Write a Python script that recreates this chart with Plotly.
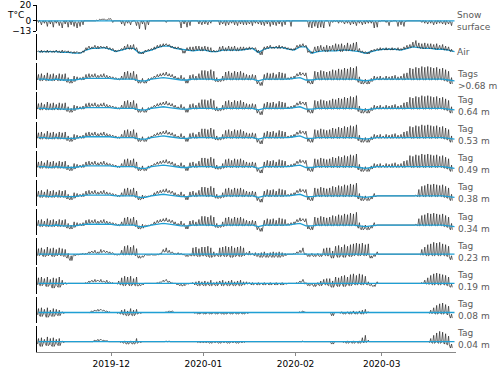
import pandas as pd
import plotly.graph_objects as go
from plotly.subplots import make_subplots

# black series are stored as one base value (lo) and one daytime extreme (hi) per day,
# 140 days starting 2019-11-06; blue series are one value every two days (71 values)

surf_lo = [-2, -5, -3, -7, -4, -8, -3, -6, -9, -4, -8, -5, -7, -9,
           -7, -5, 0, 0, 0, 0, 0, 1, 2, 1, 2, -2, 0, 0,
           -4, -6, -3, -5, 0, -6, -10, -4, -11, -5, 0, 0, 0, 0,
           0, -2, 0, 0, 0, 0, -9, -4, -8, -6, 0, 0, -4, -5,
           -4, -5, -3, 0, 0, -5, -4, -6, -5, -3, -5, -6, -4, -5,
           -5, -4, -6, -3, -4, -5, -6, -4, -7, -5, -6, -4, -7, -5,
           0, -7, 0, 0, 0, 0, 0, -8, -9, -7, -9, -8, -9, 0,
           -7, -2, -1, -3, -2, -4, -3, -5, -4, -6, -3, -5, -4, -3,
           -3, -9, -8, -1, 0, -2, -6, -1, 0, -7, -5, -7, 0, 0,
           0, 0, 0, -2, -3, -4, -3, -5, -4, -3, -4, -5, -4, -6]
surf_hi = [1, -1, 0, -1, 0, -1, 0, -1, -2, 0, -1, 0, -1, -2,
           -1, 0, 0, 0, 0, 0, 1, 2, 2, 1, 3, 0, 0, 0,
           0, -1, 0, -1, 0, -1, -2, 0, -2, 0, 0, 0, 0, 0,
           0, 0, 0, 0, 0, 0, -1, 0, -1, 0, 0, 0, 0, -1,
           0, -1, 0, 0, 0, 0, -1, 0, -1, 0, 0, -1, 0, 0,
           0, -1, 0, 0, -1, 0, -1, 0, -1, 0, -1, 0, -1, 0,
           0, 0, 0, 0, 0, 0, 0, -1, -1, 0, -1, 0, -1, 0,
           -1, 0, 0, 0, 0, -1, 0, -1, 0, -1, 0, -1, 0, 0,
           0, -1, -1, 0, 0, 0, -1, 0, 0, -1, 0, -1, 0, 0,
           0, 0, 0, 0, 0, -1, 0, -1, 0, 0, -1, 0, -1, -1]

air_lo = [-2, -3, -2, -3, -2, -3, -2, -3, -3, -2, -3, -3, -4, -3,
          -4, -3, 0, 2, 2, 3, 2, 3, 3, 2, 1, 0, -2, -1,
          0, 1, 2, 1, 2, 0, -4, -5, -2, -1, 0, 1, 3, 4,
          5, 6, 5, 3, 2, 2, 1, -4, 0, 0, -1, 0, 0, -1,
          0, -1, -2, -2, -2, -1, 0, -1, 0, -1, 0, -1, 0, 0,
          1, 1, 2, 1, -3, -6, 1, 2, 3, 2, 3, 2, 3, 2,
          1, 0, 0, 3, 4, 5, 4, -3, -4, -1, -2, 0, -1, -2,
          -1, 0, -1, 0, -2, 0, -1, 0, -1, 0, -2, -3, -4, -5,
          -2, -1, 0, 0, 1, 0, 1, 0, 1, 0, 0, 1, 2, 3,
          4, 5, 3, 2, 2, 3, 2, 2, 1, 2, 1, 0, 0, -2]
air_hi = [-1, 0, -1, 0, -1, -1, 0, -1, 0, -1, -1, -2, -2, -2,
          -3, -1, 3, 5, 4, 6, 5, 5, 4, 5, 3, 2, 0, 0,
          2, 5, 7, 6, 7, 3, -2, -3, 0, 1, 2, 4, 6, 7,
          8, 8, 7, 5, 4, 4, 2, -1, 3, 4, 4, 5, 5, 4,
          5, 4, 3, 0, -1, 4, 5, 3, 5, 4, 5, 3, 4, 4,
          3, 4, 3, 3, 0, -2, 4, 5, 6, 4, 5, 6, 5, 4,
          3, 2, 2, 6, 7, 8, 6, -1, -2, 4, 5, 6, 4, 6,
          5, 6, 8, 7, 8, 6, 9, 7, 9, 10, 2, -1, -2, -3,
          0, 1, 2, 3, 2, 3, 2, 3, 2, 3, 2, 4, 6, 7,
          10, 12, 9, 8, 9, 8, 8, 7, 8, 6, 7, 5, 4, 1]

# upper tags (>0.68 m down to 0.49 m)
upper_lo = [-1, -2, -1, -2, -1, -2, -1, -2, -1, -2, -4, -5, -3, -1,
            0, -1, 1, 2, 3, 3, 2, 3, 3, 2, 2, 1, 0, -1,
            0, 0, 1, 0, 0, -2, -5, -4, -5, -2, 0, 2, 3, 4,
            5, 5, 4, 3, 1, 0, 0, -1, -5, -1, 0, -1, 0, 0,
            0, -1, 0, -1, -3, -3, -2, -1, 0, -1, 0, -1, 0, -1,
            0, -1, 0, -1, -6, -8, -1, 0, -1, 0, -1, 0, -1, 0,
            0, 0, 1, 4, 5, 6, 4, -5, -6, -1, 0, -1, 0, -1,
            0, -1, 0, -1, 0, -1, 0, -1, 0, -1, -4, -6, -5, -6,
            -3, -1, 0, -1, 0, -1, 0, -1, 0, -1, 0, -1, 0, 0,
            -1, 0, -1, 0, -1, 0, -1, 0, -1, 0, -1, -2, -3, -6]
upper_hi = [6, 7, 5, 8, 6, 7, 5, 7, 6, 7, 2, 0, 4, 3,
            2, 3, 6, 7, 6, 7, 5, 6, 7, 5, 4, 3, 2, 1,
            4, 9, 10, 8, 10, 6, -1, 1, -2, 1, 2, 4, 6, 7,
            8, 9, 7, 6, 4, 2, 5, 2, -1, 5, 6, 4, 7, 11,
            11, 10, 12, 10, 2, 0, 4, 9, 10, 8, 10, 9, 10, 8,
            6, 5, 6, 5, -2, -4, 6, 8, 7, 8, 6, 9, 8, 7,
            2, 3, 4, 7, 9, 8, 8, -1, -2, 10, 9, 11, 10, 9,
            10, 12, 11, 13, 12, 14, 13, 15, 14, 16, 3, -1, 0, -2,
            1, 4, 3, 4, 2, 4, 3, 4, 5, 3, 4, 7, 8, 14,
            13, 15, 14, 16, 15, 16, 15, 14, 15, 13, 14, 12, 10, 2]

# middle tags (0.38 m, 0.34 m)
mid_lo = [-1, -2, -1, -2, -1, -2, -1, -2, -1, -2, -4, -5, -3, -1,
          0, -1, 1, 2, 3, 3, 2, 3, 3, 2, 2, 1, 0, -1,
          0, 0, 1, 0, 0, -2, -5, -4, -1, -1, 0, 1, 3, 4,
          5, 5, 4, 3, 1, 0, 0, -1, -5, -1, 0, -1, 0, 0,
          0, -1, 0, -1, -3, -3, -2, -1, 0, -1, 0, -1, 0, -1,
          0, -1, 0, -1, -6, -8, -1, 0, -1, 0, -1, 0, -1, 0,
          0, 0, 1, 4, 5, 6, 4, -5, -6, -1, 0, -1, 0, -1,
          0, -1, 0, -1, 0, -1, 0, -1, 0, -1, -4, -6, -5, -6,
          -4, -1, 0, 0, 0, 0, 0, 0, 0, 0, 0, 0, 0, 0,
          0, 0, -1, 0, -1, 0, -1, 0, -1, 0, -1, -2, -3, -6]
mid_hi = [6, 7, 5, 8, 6, 7, 5, 7, 6, 7, 2, 0, 4, 3,
          2, 3, 6, 7, 6, 7, 5, 6, 7, 5, 4, 3, 2, 1,
          4, 9, 10, 8, 10, 6, -1, 1, 0, 0, 1, 4, 6, 7,
          8, 9, 7, 6, 4, 2, 5, 2, -1, 5, 6, 4, 7, 11,
          11, 10, 12, 10, 2, 0, 4, 9, 10, 8, 10, 9, 10, 8,
          6, 5, 6, 5, -2, -4, 6, 8, 7, 8, 6, 9, 8, 7,
          2, 3, 4, 7, 9, 8, 8, -1, -2, 10, 9, 11, 10, 9,
          10, 12, 11, 13, 12, 14, 13, 15, 14, 16, 3, -1, 0, -2,
          -1, 3, 0, 0, 0, 0, 0, 0, 0, 0, 0, 0, 0, 0,
          0, 1, 8, 12, 13, 15, 14, 15, 14, 13, 14, 12, 10, 2]

t023_lo = [-2, -1, -3, -2, -1, -3, -2, -1, -2, -3, -5, -8, -2, -1,
           0, 0, 0, 1, 2, 2, 1, 2, 3, 2, 1, 1, -1, -1,
           0, -1, 0, -1, 0, -2, -5, -4, -1, -1, -1, -1, -1, 0,
           3, 3, 2, 1, 0, 0, 0, -1, -3, -2, -2, -2, -3, -2,
           -2, -3, -4, -3, -2, -3, -2, -3, -2, -4, -3, -2, -3, -2,
           0, -1, 0, -2, -3, -4, -3, -4, -3, -4, -3, -4, -3, -2,
           0, 0, 0, 1, 2, 3, -1, -3, -2, -3, -2, -3, -1, -2,
           -2, -5, -1, -4, -2, -4, -1, -3, -2, -1, -2, -1, -2, -1,
           -5, -3, 0, 0, 0, 0, 0, 0, 0, 0, 0, 0, 0, 0,
           0, 0, 0, -1, -1, -2, -1, -2, -1, -2, -1, -2, -3, -7]
t023_hi = [7, 8, 6, 9, 7, 8, 6, 8, 7, 6, 1, -2, 0, 0,
           0, 1, 1, 3, 4, 5, 3, 6, 5, 4, 3, 2, 0, 0,
           5, 10, 11, 9, 11, 7, -2, -2, 0, -1, 0, -1, 0, 1,
           6, 8, 5, 3, 1, 2, 1, 0, -1, 0, 8, 9, 7, 9,
           9, 10, 8, 3, 1, 8, 9, 10, 9, 10, 8, 9, 10, 8,
           2, 4, 1, 2, 1, 2, 3, 1, 2, 3, 2, 3, 2, 1,
           0, 0, 1, 3, 5, 8, 1, 0, 1, 0, 1, 0, 7, 8,
           8, 4, 10, 11, 9, 12, 10, 12, 13, 14, 13, 14, 12, 13,
           -2, 0, 3, 0, 0, 0, 0, 0, 0, 0, 0, 0, 0, 0,
           0, 0, 0, 6, 9, 12, 13, 15, 14, 15, 13, 12, 10, -2]

t019_lo = [-2, -3, -1, -4, -2, -6, -3, -5, -2, -1, 0, 0, 0, 0,
           0, 0, 0, 1, 2, 2, 3, 2, 2, 1, 1, 0, 0, -1,
           -2, -3, -1, -3, -2, -3, -3, -2, 0, 0, 0, 0, 0, 1,
           2, 3, 1, 0, 0, -2, -3, -3, -1, 0, 0, -2, -3, -2,
           -3, -2, -3, -2, -3, -1, -3, -2, -3, -2, -3, -2, -3, -2,
           -1, 0, -2, -1, -2, -1, -2, -1, -2, -1, -2, -1, -2, -1,
           0, 0, 0, 0, 1, 2, -1, -3, -2, -4, -2, -3, -1, -2,
           -3, -5, -2, -4, -1, -4, -2, -3, -1, -2, -1, -2, -1, -2,
           -3, -4, 0, 0, 0, 0, 0, 0, 0, 0, 0, 0, 0, 0,
           0, 0, 0, 0, 0, -1, -1, -2, -1, -2, -1, -2, -3, -5]
t019_hi = [7, 8, 6, 8, 5, 7, 6, 8, 4, 1, 0, 0, 0, 0,
           0, 0, 1, 3, 4, 5, 4, 5, 3, 4, 2, 1, 0, 3,
           7, 9, 8, 9, 6, 8, -1, -1, 0, 0, 0, 0, 1, 2,
           4, 5, 3, 1, 0, 0, -1, -1, 0, 0, 1, 2, 3, 2,
           3, 2, 4, 1, 2, 3, 4, 2, 3, 4, 2, 3, 4, 2,
           2, 1, 1, 0, 1, 0, 1, 0, 1, 0, 1, 0, 1, 0,
           0, 0, 0, 1, 3, 5, 1, -1, 0, -1, 1, 3, 5, 6,
           6, 3, 8, 7, 9, 10, 8, 11, 12, 10, 12, 11, 9, 2,
           -1, -2, 2, 0, 0, 0, 0, 0, 0, 0, 0, 0, 0, 0,
           0, 0, 0, 1, 4, 7, 10, 12, 13, 12, 11, 10, 8, -1]

t008_lo = [-3, -5, -2, -6, -4, -5, -3, -4, -1, 0, 0, 0, 0, 0,
           0, 0, 0, 0, 1, 2, 2, 3, 2, 1, 0, 0, 0, -1,
           -2, -3, -4, -3, -4, -2, -1, 0, 0, 0, 0, 0, 0, 0,
           0, 0, 1, 1, 0, 0, 0, 0, 0, 0, 0, -1, -2, -1,
           -2, -1, -2, -1, -2, -1, -2, -2, -1, -2, -1, -2, -1, -2,
           -1, 0, 0, 0, 0, 0, 0, 0, 0, 0, 0, 0, 0, 0,
           0, 0, 0, 0, 0, 1, 0, 0, 0, 0, 0, 0, 0, 0,
           0, -4, 0, 0, -1, -2, -1, -2, -1, -2, -1, -2, -1, 0,
           0, 0, 0, 0, 0, 0, 0, 0, 0, 0, 0, 0, 0, 0,
           0, 0, 0, 0, 0, 0, -1, -1, -2, -1, -2, -1, -3, -7]
t008_hi = [5, 6, 4, 6, 3, 5, 4, 3, 1, 0, 0, 0, 0, 0,
           0, 0, 0, 0, 2, 3, 4, 4, 3, 2, 1, 0, 0, 0,
           3, 4, 2, 5, 3, 4, 0, 0, 0, 0, 0, 0, 0, 0,
           0, 1, 2, 2, 0, 0, 0, 0, 0, 0, 0, 0, 0, 0,
           0, 0, 0, 0, 0, 0, 0, 0, 0, 0, 0, 0, 0, 0,
           0, 0, 0, 0, 0, 0, 0, 0, 0, 0, 0, 0, 0, 0,
           0, 0, 0, 0, 1, 2, 0, 0, 0, 0, 0, 0, 0, 0,
           0, -1, 0, 0, 1, 0, 1, 1, 2, 1, 2, 3, 4, 1,
           0, 0, 0, 0, 0, 0, 0, 0, 0, 0, 0, 0, 0, 0,
           0, 0, 0, 0, 0, 0, 3, 6, 9, 11, 12, 10, 8, -2]

t004_lo = [-3, -6, -2, -5, -4, -6, -3, -5, -1, 0, 0, 0, 0, 0,
           0, 0, 0, 0, 0, 1, 1, 2, 1, 1, 0, 0, 0, 0,
           -1, -2, -3, -2, -3, -2, -1, 0, 0, 0, 0, 0, 0, 0,
           0, 0, 0, 0, 0, 0, 0, 0, 0, 0, 0, 0, -1, -1,
           -1, -1, -2, -1, -1, -2, -1, -1, -2, -1, -1, -2, -1, -1,
           0, 0, 0, 0, 0, 0, 0, 0, 0, 0, 0, 0, 0, 0,
           0, 0, 0, 0, 0, 0, 0, 0, 0, 0, 0, 0, 0, 0,
           0, -3, 0, 0, 0, -1, -2, -1, -2, -1, -2, -1, -1, 0,
           0, 0, 0, 0, 0, 0, 0, 0, 0, 0, 0, 0, 0, 0,
           0, 0, 0, 0, 0, 0, -1, -2, -1, -2, -1, -3, -4, -8]
t004_hi = [4, 5, 3, 6, 4, 5, 3, 4, 1, 0, 0, 0, 0, 0,
           0, 0, 0, 0, 0, 2, 3, 3, 2, 1, 0, 0, 0, 0,
           0, 1, 0, 1, 0, 4, 0, 0, 0, 0, 0, 0, 0, 0,
           0, 1, 1, 0, 0, 0, 0, 0, 0, 0, 0, 0, 0, 0,
           0, 0, 0, 0, 0, 0, 0, 0, 0, 0, 0, 0, 0, 0,
           0, 0, 0, 0, 0, 0, 0, 0, 0, 0, 0, 0, 0, 0,
           0, 0, 0, 0, 0, 1, 0, 0, 0, 0, 0, 0, 0, 0,
           0, -1, 0, 0, 0, 0, 1, 0, 1, 0, 1, 5, 8, 2,
           0, 0, 0, 0, 0, 0, 0, 0, 0, 0, 0, 0, 0, 0,
           0, 0, 0, 0, 0, 0, 4, 8, 11, 13, 12, 10, 7, -3]

# blue reference lines
flat_blue = [0, 0, 0, 0, 0, 0, 0, 0, 0, 0,
             0, 0, 0, 0, 0, 0, 0, 0, 0, 0,
             0, 0, 0, 0, 0, 0, 0, 0, 0, 0,
             0, 0, 0, 0, 0, 0, 0, 0, 0, 0,
             0, 0, 0, 0, 0, 0, 0, 0, 0, 0,
             0, 0, 0, 0, 0, 0, 0, 0, 0, 0,
             0, 0, 0, 0, 0, 0, 0, 0, 0, 0, 0]
air_blue = [-2, -2, -2, -2, -3, -3, -4, -4, 0, 2,
            2, 3, 1, -2, 0, 2, 2, -4, -2, 0,
            3, 5, 5, 2, 1, 0, -1, 0, 0, -2,
            -2, 0, 0, 0, 0, 1, 2, -3, 1, 3,
            3, 3, 1, 0, 4, 4, -4, -2, -1, -1,
            -1, 0, 0, -1, -2, -4, -2, 0, 1, 1,
            1, 0, 2, 4, 3, 2, 2, 1, 1, 0, -2]
tag_blue = [0, 0, -1, 0, -1, -1, -1, 0, 1, 1,
            1, 1, 1, 0, 0, 0, 0, -2, -2, 0,
            1, 2, 1, 0, -1, -1, 0, 0, 0, 0,
            -1, 0, 0, 0, 0, 0, 0, -2, 0, 0,
            0, 0, 0, 1, 2, -1, -1, 0, 0, 0,
            0, 0, 0, 0, -1, -2, -1, 0, 0, 0,
            0, 0, 0, 0, 0, 0, 0, 0, 0, -1, -2]

labels = ["Snow<br>surface", "Air", "Tags<br>&gt;0.68 m", "Tag<br>0.64 m", "Tag<br>0.53 m",
          "Tag<br>0.49 m", "Tag<br>0.38 m", "Tag<br>0.34 m", "Tag<br>0.23 m", "Tag<br>0.19 m",
          "Tag<br>0.08 m", "Tag<br>0.04 m"]
# surface: the quiet value is hi and the excursion (downward) is lo
base = [surf_hi, air_lo, upper_lo, upper_lo, upper_lo, upper_lo, mid_lo, mid_lo,
        t023_lo, t019_lo, t008_lo, t004_lo]
peak = [surf_lo, air_hi, upper_hi, upper_hi, upper_hi, upper_hi, mid_hi, mid_hi,
        t023_hi, t019_hi, t008_hi, t004_hi]
blue = [flat_blue, air_blue, tag_blue, tag_blue, tag_blue, tag_blue, tag_blue, tag_blue,
        flat_blue, flat_blue, flat_blue, flat_blue]
label_y = [0, -2, -1, 3, 3, 3, 3, 3, 3, 3, 3, 3]

days = pd.date_range("2019-11-06", periods=140, freq="D")
# each day: base in the early morning, extreme around midday, back to base by evening
times = [d + pd.Timedelta(hours=h) for d in days for h in (3, 12, 18)]
blue_times = pd.date_range("2019-11-06 12:00", periods=71, freq="48h")

BLACK = "#262626"
BLUE = "#1f9fd4"
FONT = "DejaVu Sans"


def daily(b, p):
    out = []
    for a, c in zip(b, p):
        out += [a, c, a]
    return out


n = len(labels)
fig = make_subplots(rows=n, cols=1, shared_xaxes=True, vertical_spacing=0.0086)

for i in range(n):
    row = i + 1
    black = go.Scatter(x=times, y=daily(base[i], peak[i]), mode="lines",
                       line=dict(color=BLACK, width=0.7), hoverinfo="skip")
    bl = go.Scatter(x=blue_times, y=blue[i], mode="lines",
                    line=dict(color=BLUE, width=1.3), hoverinfo="skip")
    # air: blue sits under the black curve, elsewhere on top of it
    if i == 1:
        fig.add_trace(bl, row=row, col=1)
        fig.add_trace(black, row=row, col=1)
    else:
        fig.add_trace(black, row=row, col=1)
        fig.add_trace(bl, row=row, col=1)

    sfx = "" if row == 1 else str(row)
    fig.add_annotation(text=labels[i], xref="x%s domain" % sfx, yref="y%s" % sfx,
                       x=1.0, y=label_y[i], xanchor="left", yanchor="middle",
                       xshift=0, align="left", showarrow=False, borderpad=0,
                       font=dict(family=FONT, size=9, color="#5a5a5a"))

    fig.update_yaxes(range=[-13, 20], showgrid=False, zeroline=False,
                     showline=True, linecolor="black", linewidth=1,
                     showticklabels=(row == 1), ticks="outside" if row == 1 else "",
                     ticklen=3, tickcolor="black",
                     tickvals=[20, 0, -13], ticktext=["20", "0", "\u221213"],
                     tickfont=dict(family=FONT, size=9, color="black"),
                     row=row, col=1)
    fig.update_xaxes(range=["2019-11-06", "2020-03-26"], showgrid=False, zeroline=False,
                     showline=(row == n), linecolor="#888888", linewidth=1,
                     ticks="outside" if row == n else "", ticklen=3, tickcolor="#888888",
                     showticklabels=(row == n),
                     tickvals=["2019-12-01", "2020-01-01", "2020-02-01", "2020-03-01"],
                     ticktext=["2019-12", "2020-01", "2020-02", "2020-03"],
                     tickfont=dict(family=FONT, size=9, color="black"),
                     row=row, col=1)

fig.add_annotation(text="T°C", xref="paper", yref="paper", x=-0.0525, y=0.971,
                   xanchor="center", yanchor="middle", showarrow=False,
                   font=dict(family=FONT, size=9, color="black"))

fig.update_layout(width=500, height=370, showlegend=False,
                  margin=dict(l=37, r=44, t=5, b=18, autoexpand=False),
                  plot_bgcolor="white", paper_bgcolor="white",
                  font=dict(family=FONT, size=9))

fig.write_html("out.html", config={"displayModeBar": False},
               post_script="document.body.style.margin='0';")
